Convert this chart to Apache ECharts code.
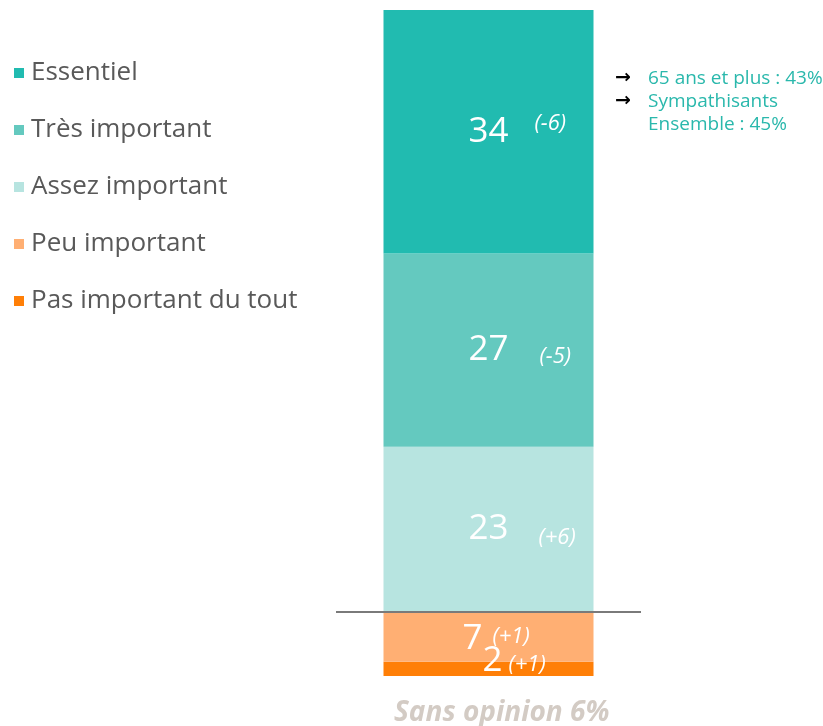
<!DOCTYPE html>
<html>
<head>
<meta charset="utf-8">
<script src="https://cdn.jsdelivr.net/npm/echarts@6/dist/echarts.min.js"></script>
<style>
html,body{margin:0;padding:0;background:#fff;}
#c{width:823px;height:726px;}
</style>
</head>
<body>
<div id="c"></div>
<script>
// Data
const categories = ['Total'];
const seriesNames = ['Pas important du tout', 'Peu important', 'Assez important', 'Très important', 'Essentiel'];
const seriesValues = [2, 7, 23, 27, 34];
const seriesChanges = ['(+1)', '(+1)', '(+6)', '(-5)', '(-6)'];
const legendOrder = ['Essentiel', 'Très important', 'Assez important', 'Peu important', 'Pas important du tout'];
const annotationLines = ['65 ans et plus : 43%', 'Sympathisants', 'Ensemble : 45%'];
const sansOpinion = 'Sans opinion 6%';
const thresholdValue = 9;

const colors = ['#FF7F07', '#FFAF73', '#B7E4E0', '#64C9BF', '#21BBB0'];
const FONT = '"Open Sans", "DejaVu Sans", sans-serif';

// label layout per segment: x position in bar, gap, vertical shift of change text, vertical offset
const labelCfg = [
  {x: 99, gap: 6, shift: 8, oy: -8},
  {x: 79, gap: 10, shift: -4, oy: 2},
  {x: 85, gap: 30, shift: 18, oy: 0},
  {x: 85, gap: 31, shift: 14, oy: 0},
  {x: 85, gap: 26, shift: -16, oy: 0}
];

const series = seriesNames.map((name, i) => {
  const c = labelCfg[i];
  const pad = c.shift > 0 ? [c.shift, 0, 0, c.gap] : [0, 0, -c.shift, c.gap];
  const s = {
    name: name,
    type: 'bar',
    stack: 'total',
    barWidth: 210,
    data: [seriesValues[i]],
    itemStyle: {color: colors[i]},
    label: {
      show: true,
      position: [c.x, '50%'],
      align: 'left',
      verticalAlign: 'middle',
      offset: [0, c.oy],
      formatter: '{v|' + seriesValues[i] + '}{d|' + seriesChanges[i] + '}',
      rich: {
        v: {color: '#fff', fontSize: 35, fontFamily: FONT},
        d: {color: '#fff', fontSize: 22, fontStyle: 'italic', fontFamily: FONT, padding: pad}
      }
    },
    emphasis: {disabled: true}
  };
  if (i === 1) {
    s.markLine = {
      silent: true,
      symbol: 'none',
      label: {show: false},
      lineStyle: {color: '#7a7a7a', width: 2, type: 'solid'},
      data: [{yAxis: thresholdValue}]
    };
  }
  return s;
});

const chart = echarts.init(document.getElementById('c'));
chart.setOption({
  animation: false,
  backgroundColor: '#fff',
  grid: {left: 336, right: 182, top: 10, bottom: 50},
  xAxis: {type: 'category', data: categories, show: false},
  yAxis: {type: 'value', min: 0, max: 93, show: false},
  legend: {
    data: legendOrder,
    orient: 'vertical',
    left: 9,
    top: 55,
    itemWidth: 10,
    itemHeight: 10,
    itemGap: 31,
    icon: 'rect',
    selectedMode: false,
    textStyle: {color: '#595959', fontSize: 26, fontFamily: FONT, padding: [0, 0, 0, 2]}
  },
  graphic: [
    {type: 'text', left: 615, top: 67, style: {text: '→\n→', fill: '#000', font: 'bold 19px "DejaVu Sans"', lineHeight: 23}},
    {type: 'text', left: 648, top: 67, style: {text: annotationLines.join('\n'), fill: '#2AB8AC', font: '19px ' + FONT, lineHeight: 23}},
    {type: 'text', left: 394, top: 699, style: {text: sansOpinion, fill: '#D3CBC4', font: 'italic bold 28px ' + FONT}}
  ],
  series: series
});
</script>
</body>
</html>
